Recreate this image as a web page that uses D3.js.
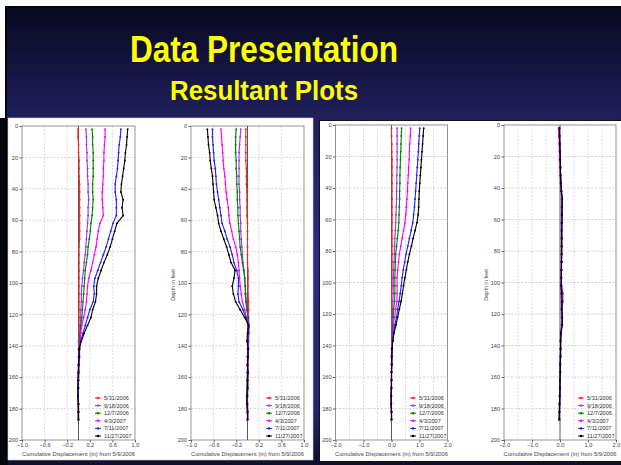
<!DOCTYPE html>
<html>
<head>
<meta charset="utf-8">
<script src="https://cdn.jsdelivr.net/npm/d3@7"></script>
<style>
html, body { margin: 0; padding: 0; background: #fff; }
svg { display: block; font-family: "Liberation Sans", Arial, sans-serif; }
</style>
</head>
<body>
<svg id="slide" width="621" height="465"></svg>
<script>
// ---------------- data ----------------
// depth of each reading (feet)
var depths = [2,7,12,17,22,27,32,37,42,47,52,57,62,67,72,77,82,87,92,97,
              102,107,112,117,122,127,132,137,142,147,152,157,162,167,172,177,182,187];
var dates = ["5/31/2006","9/18/2006","12/7/2006","4/3/2007","7/11/2007","11/27/2007"];
var depthTicks = [0,20,40,60,80,100,120,140,160,180,200];
var ticksSmall = [-1.0,-0.6,-0.2,0.2,0.6,1.0];
var gridSmall = [-0.6,-0.2,0.2,0.6];
var ticksLarge = [-2,-1,0,1,2];
var gridLarge = [-1.5,-1,-0.5,0.5,1,1.5];

// plot 1 (left image, A axis) - one array per reading date
var p1_0531 = [-.01,-.01,0,0,.01,.01,.01,.02,.02,.02,.02,.02,.02,.02,.02,.01,.01,.01,.01,.01,.01,.01,.01,.01,.01,.01,.01,0,0,0,0,-.01,-.01,-.01,-.01,-.01,-.01,-.01];
var p1_0918 = [.13,.14,.14,.15,.15,.16,.16,.17,.17,.18,.17,.17,.16,.15,.14,.13,.12,.10,.09,.07,.06,.05,.05,.04,.04,.03,.02,.01,.01,.01,0,0,0,-.01,-.01,0,0,0];
var p1_1207 = [.24,.25,.25,.26,.26,.26,.26,.25,.25,.26,.25,.24,.22,.21,.19,.17,.16,.14,.12,.11,.10,.09,.08,.07,.06,.04,.03,.02,.01,.01,0,0,0,-.01,-.01,-.01,0,0];
var p1_0403 = [.47,.47,.46,.45,.45,.44,.44,.43,.42,.42,.43,.44,.38,.35,.33,.31,.28,.25,.22,.18,.16,.15,.14,.12,.09,.06,.04,.03,.02,.02,.01,.01,0,0,-.01,0,0,0];
var p1_0711 = [.75,.74,.72,.71,.70,.69,.67,.65,.65,.67,.67,.67,.61,.57,.53,.49,.44,.39,.34,.29,.27,.28,.26,.20,.16,.12,.08,.04,.02,.01,.01,0,0,0,-.01,0,0,0];
var p1_1127 = [.87,.86,.85,.83,.82,.80,.78,.76,.75,.79,.77,.79,.68,.64,.60,.56,.51,.45,.40,.35,.32,.32,.30,.25,.22,.16,.10,.05,.01,.01,0,0,-.01,-.01,-.01,0,0,0];

// plot 2 (left image, B axis)
var p2_0531 = [-.03,-.03,-.03,-.03,-.03,-.02,-.02,-.02,-.01,-.01,-.01,-.01,0,0,0,0,0,0,.01,.01,.01,.01,.02,.02,.02,.03,.02,.02,.02,.01,.01,.01,.01,.01,0,0,.01,.01];
var p2_0918 = [-.12,-.13,-.14,-.15,-.15,-.15,-.15,-.15,-.14,-.14,-.13,-.13,-.12,-.12,-.11,-.10,-.09,-.08,-.06,-.05,-.04,-.03,-.02,-.01,.01,.02,.01,.01,.01,.01,0,0,0,0,0,0,0,0];
var p2_1207 = [-.20,-.21,-.21,-.21,-.20,-.20,-.19,-.19,-.18,-.18,-.17,-.17,-.16,-.15,-.14,-.13,-.11,-.09,-.07,-.05,-.04,-.04,-.03,-.01,.01,.02,.01,.01,0,0,0,0,-.01,-.01,-.01,-.01,0,0];
var p2_0403 = [-.47,-.46,-.45,-.44,-.43,-.42,-.40,-.39,-.38,-.36,-.34,-.33,-.31,-.28,-.25,-.21,-.18,-.16,-.15,-.14,-.13,-.11,-.09,-.05,-.02,.02,.02,.01,.01,0,0,0,0,0,0,0,0,0];
var p2_0711 = [-.62,-.62,-.61,-.60,-.59,-.57,-.56,-.55,-.53,-.51,-.49,-.47,-.45,-.40,-.36,-.31,-.27,-.24,-.19,-.16,-.16,-.17,-.15,-.08,-.03,.02,.02,.01,.01,0,0,0,0,0,-.01,-.01,0,0];
var p2_1127 = [-.71,-.70,-.69,-.67,-.66,-.64,-.62,-.61,-.60,-.59,-.56,-.53,-.51,-.47,-.42,-.37,-.33,-.29,-.22,-.24,-.27,-.25,-.21,-.13,-.05,.02,0,-.01,.01,.01,0,.01,0,0,-.01,-.01,0,0];

// plot 3 (right image, A axis)
var p3_0531 = [0,0,.01,.01,.02,.02,.02,.02,.02,.02,.02,.02,.02,.02,.02,.02,.02,.02,.02,.02,.02,.01,.01,.01,.01,.01,.01,.01,0,0,0,0,0,-.01,-.01,-.01,0,0];
var p3_0918 = [.20,.20,.20,.20,.20,.20,.19,.19,.18,.18,.17,.16,.15,.14,.12,.11,.10,.09,.08,.07,.06,.06,.05,.04,.03,.02,.02,.01,.01,0,0,0,0,-.01,-.01,-.01,0,0];
var p3_1207 = [.36,.35,.34,.33,.32,.31,.30,.30,.29,.29,.28,.27,.26,.24,.21,.18,.15,.14,.13,.12,.12,.12,.11,.08,.06,.04,.03,.02,.01,.01,0,0,0,-.01,-.01,-.01,0,0];
var p3_0403 = [.68,.67,.65,.64,.63,.61,.60,.58,.57,.55,.53,.51,.48,.43,.38,.33,.28,.25,.22,.20,.20,.20,.19,.15,.11,.07,.05,.03,.02,.01,.01,0,0,0,-.01,-.01,0,0];
var p3_0711 = [1.01,.99,.97,.96,.94,.92,.90,.88,.86,.84,.82,.79,.76,.70,.64,.58,.52,.47,.42,.38,.35,.31,.27,.22,.18,.12,.07,.04,.02,.01,.01,0,0,0,-.01,-.01,0,0];
var p3_1127 = [1.15,1.13,1.11,1.09,1.07,1.05,1.03,1.01,.99,.98,.97,.95,.91,.84,.77,.71,.64,.58,.53,.48,.43,.39,.34,.28,.22,.16,.09,.05,.02,.01,.01,0,0,0,-.01,-.01,0,0];

// plot 4 (right image, B axis)
var p4_0531 = [-.02,-.02,-.01,0,0,.01,.02,.03,.04,.06,.06,.06,.06,.06,.06,.05,.05,.05,.05,.04,.04,.04,.05,.05,.06,.06,.03,.02,.02,.02,.01,.01,0,0,-.01,-.01,-.02,-.02];
var p4_0918 = [-.03,-.02,-.01,0,0,.01,.02,.03,.05,.07,.07,.06,.06,.06,.06,.06,.05,.05,.05,.04,.04,.05,.06,.06,.07,.07,.03,.02,.02,.02,.01,.01,0,0,-.01,-.02,-.02,-.02];
var p4_1207 = [-.02,-.02,-.01,0,.01,.01,.02,.03,.05,.07,.07,.07,.06,.06,.06,.06,.06,.05,.05,.04,.04,.05,.06,.06,.07,.07,.03,.02,.02,.01,.01,0,0,-.01,-.01,-.02,-.02,-.02];
var p4_0403 = [-.05,-.04,-.03,-.02,-.02,-.01,0,.02,.04,.07,.06,.06,.05,.05,.05,.05,.05,.05,.04,.04,.04,.05,.06,.06,.07,.06,.03,.02,.02,.01,.01,.01,0,0,-.01,-.01,-.02,-.02];
var p4_0711 = [-.02,-.01,-.01,0,.01,.01,.02,.03,.05,.08,.07,.07,.06,.06,.06,.06,.06,.05,.05,.05,.06,.10,.10,.07,.08,.08,.04,.02,.02,.02,.01,.01,0,0,-.01,-.01,-.02,-.02];
var p4_1127 = [-.02,-.02,-.01,0,.01,.02,.02,.03,.05,.08,.07,.07,.07,.06,.06,.06,.06,.06,.05,.05,.04,.06,.07,.06,.08,.08,.03,.02,.02,.02,.01,.01,0,0,-.01,-.02,-.02,-.03];

// ---------------- layout ----------------
var colors = ["#ff2020","#9933ff","#008000","#ff00ff","#2020ff","#000000"];

var plots = [
  {x0: 22,  x1: 135, y0: 126, y1: 440, dom: [-1, 1], ticks: ticksSmall, grid: gridSmall, fmt: ".1f",
   series: [p1_0531,p1_0918,p1_1207,p1_0403,p1_0711,p1_1127], legendX: 95, ytitle: false},
  {x0: 191, x1: 304, y0: 126, y1: 440, dom: [-1, 1], ticks: ticksSmall, grid: gridSmall, fmt: ".1f",
   series: [p2_0531,p2_0918,p2_1207,p2_0403,p2_0711,p2_1127], legendX: 266, ytitle: true},
  {x0: 335.5, x1: 447.5, y0: 125, y1: 440, dom: [-2, 2], ticks: ticksLarge, grid: gridLarge, fmt: ".1f",
   series: [p3_0531,p3_0918,p3_1207,p3_0403,p3_0711,p3_1127], legendX: 410, ytitle: false},
  {x0: 504, x1: 616, y0: 125, y1: 440, dom: [-2, 2], ticks: ticksLarge, grid: gridLarge, fmt: ".1f",
   series: [p4_0531,p4_0918,p4_1207,p4_0403,p4_0711,p4_1127], legendX: 578, ytitle: true}
];

var svg = d3.select("#slide");

// background gradient of the slide
var defs = svg.append("defs");
var grad = defs.append("linearGradient")
    .attr("id", "bg")
    .attr("gradientUnits", "userSpaceOnUse")
    .attr("x1", 0).attr("y1", 0).attr("x2", 0).attr("y2", 465);
grad.append("stop").attr("offset", "0").attr("stop-color", "#07071c");
grad.append("stop").attr("offset", "0.25").attr("stop-color", "#1f1f5c");
grad.append("stop").attr("offset", "0.55").attr("stop-color", "#2c2c84");
grad.append("stop").attr("offset", "0.88").attr("stop-color", "#24246e");
grad.append("stop").attr("offset", "1").attr("stop-color", "#0e0e2c");

svg.append("rect").attr("width", 621).attr("height", 465).attr("fill", "#fff");
svg.append("rect")
    .attr("x", 6).attr("y", 7).attr("width", 616).attr("height", 460)
    .attr("fill", "url(#bg)")
    .attr("stroke", "#03030c").attr("stroke-width", 2);
// dark band down the left side
svg.append("rect").attr("x", 0).attr("y", 118).attr("width", 8).attr("height", 347).attr("fill", "#04040e");

// title
svg.append("text")
    .attr("x", 264).attr("y", 62)
    .attr("text-anchor", "middle")
    .attr("textLength", 268).attr("lengthAdjust", "spacingAndGlyphs")
    .style("font-size", "36px").style("font-weight", "bold")
    .attr("fill", "#ffff00")
    .text("Data Presentation");
svg.append("text")
    .attr("x", 264).attr("y", 100)
    .attr("text-anchor", "middle")
    .attr("textLength", 188).attr("lengthAdjust", "spacingAndGlyphs")
    .style("font-size", "27px").style("font-weight", "bold")
    .attr("fill", "#ffff00")
    .text("Resultant Plots");

// the two pasted images
svg.append("rect").attr("x", 8).attr("y", 118).attr("width", 305).attr("height", 342)
    .attr("fill", "#fff").attr("stroke", "#d0d0d0").attr("stroke-width", 0.6);
svg.append("rect").attr("x", 319.5).attr("y", 120.5).attr("width", 302).attr("height", 341)
    .attr("fill", "#fff").attr("stroke", "#111").attr("stroke-width", 1);

//-------------------- each inclinometer plot ---------------
plots.forEach(function(p) {
  var x = d3.scaleLinear().domain(p.dom).range([p.x0, p.x1]);
  var y = d3.scaleLinear().domain([0, 200]).range([p.y0, p.y1]);
  var g = svg.append("g");

  // gridlines
  g.append("g").selectAll("line").data(depthTicks.slice(1, -1)).enter().append("line")
      .attr("x1", p.x0).attr("x2", p.x1)
      .attr("y1", function(d) { return y(d); }).attr("y2", function(d) { return y(d); })
      .attr("stroke", "#b8b8b8").attr("stroke-width", 0.6).attr("stroke-dasharray", "2,1.5");
  g.append("g").selectAll("line").data(p.grid).enter().append("line")
      .attr("y1", p.y0).attr("y2", p.y1)
      .attr("x1", function(d) { return x(d); }).attr("x2", function(d) { return x(d); })
      .attr("stroke", "#c4c4c4").attr("stroke-width", 0.6).attr("stroke-dasharray", "2,1.5");

  // frame
  g.append("rect")
      .attr("x", p.x0).attr("y", p.y0)
      .attr("width", p.x1 - p.x0).attr("height", p.y1 - p.y0)
      .attr("fill", "none").attr("stroke", "#8a8a8a").attr("stroke-width", 0.9);

  // zero line
  g.append("line")
      .attr("x1", x(0)).attr("x2", x(0)).attr("y1", p.y0).attr("y2", p.y1)
      .attr("stroke", "#555").attr("stroke-width", 1);

  // axes
  var ay = g.append("g")
      .attr("transform", "translate(" + p.x0 + ",0)")
      .call(d3.axisLeft(y).tickValues(depthTicks).tickSize(2.5).tickPadding(1.5));
  var ax = g.append("g")
      .attr("transform", "translate(0," + p.y1 + ")")
      .call(d3.axisBottom(x).tickValues(p.ticks).tickSize(2.5).tickPadding(1)
        .tickFormat(d3.format(p.fmt)));
  [ay, ax].forEach(function(a) {
    a.select(".domain").remove();
    a.selectAll("line").attr("stroke", "#666");
    a.selectAll("text").attr("fill", "#444")
      .style("font-size", "5.6px").style("font-family", "'Liberation Sans', Arial, sans-serif");
  });

  // x title
  g.append("text")
      .attr("x", (p.x0 + p.x1) / 2).attr("y", p.y1 + 16)
      .attr("text-anchor", "middle")
      .style("font-size", "5.8px").attr("fill", "#444")
      .text("Cumulative Displacement (in) from 5/9/2006");

  if (p.ytitle) {
    g.append("text")
        .attr("transform", "translate(" + (p.x0 - 16) + ",285) rotate(-90)")
        .attr("text-anchor", "middle")
        .style("font-size", "5.6px").attr("fill", "#444")
        .text("Depth in feet");
  }

  // series
  var line = d3.line()
      .x(function(d) { return x(d); })
      .y(function(d, i) { return y(depths[i]); });

  p.series.forEach(function(s, k) {
    var sg = g.append("g");
    sg.append("path")
        .attr("d", line(s))
        .attr("fill", "none")
        .attr("stroke", colors[k]).attr("stroke-width", 1.1);
    sg.selectAll("circle").data(s).enter().append("circle")
        .attr("cx", function(d) { return x(d); })
        .attr("cy", function(d, i) { return y(depths[i]); })
        .attr("r", 0.95)
        .attr("fill", colors[k]);
  });

  // legend
  var lg = g.append("g");
  dates.forEach(function(dt, k) {
    var ly = 398 + k * 7.6;
    lg.append("line")
        .attr("x1", p.legendX).attr("x2", p.legendX + 6)
        .attr("y1", ly).attr("y2", ly)
        .attr("stroke", colors[k]).attr("stroke-width", 1);
    lg.append("circle")
        .attr("cx", p.legendX + 3).attr("cy", ly).attr("r", 1.2)
        .attr("fill", colors[k]);
    lg.append("text")
        .attr("x", p.legendX + 9).attr("y", ly).attr("dy", "0.35em")
        .style("font-size", "5.6px").attr("fill", "#333")
        .text(dt);
  });
});
</script>
</body>
</html>
